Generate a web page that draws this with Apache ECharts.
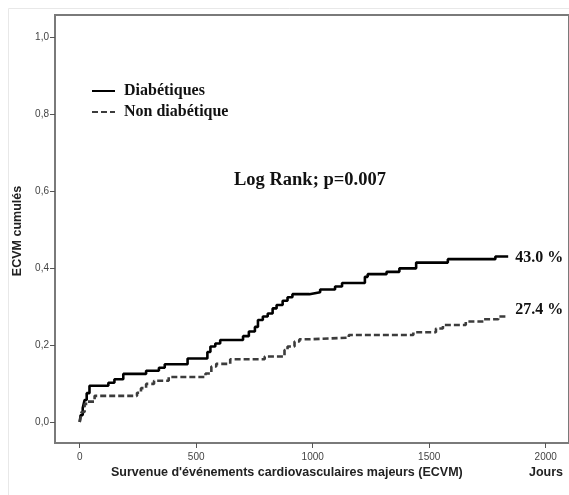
<!DOCTYPE html>
<html><head><meta charset="utf-8">
<script src="https://cdn.jsdelivr.net/npm/echarts@6/dist/echarts.min.js"></script>
<style>html,body{margin:0;padding:0;background:#fff}#c{width:569px;height:495px}</style>
</head><body><div id="c"></div>
<script>
const xTicks = [0, 500, 1000, 1500, 2000];
const yTicks = [0, 0.2, 0.4, 0.6, 0.8, 1.0];
const seriesNames = ['Diabétiques', 'Non diabétique'];
const diabDays = [0,4,13,21,30,42,123,149,187,285,340,365,463,548,561,582,603,701,726,752,765,786,807,828,845,871,892,913,986,1032,1096,1126,1224,1236,1317,1372,1444,1580,1784,1839];
const diabVals = [0,0.018,0.036,0.057,0.075,0.094,0.102,0.111,0.125,0.133,0.141,0.150,0.165,0.182,0.196,0.204,0.213,0.223,0.235,0.247,0.265,0.274,0.282,0.295,0.304,0.315,0.324,0.332,0.337,0.344,0.352,0.361,0.377,0.384,0.390,0.399,0.414,0.423,0.430,0.430];
const nonDays = [0,8,21,34,64,246,263,285,319,382,540,565,586,646,794,879,892,922,943,990,1155,1432,1529,1559,1657,1733,1797,1839];
const nonVals = [0,0.026,0.047,0.053,0.068,0.076,0.088,0.099,0.107,0.117,0.126,0.144,0.151,0.163,0.170,0.187,0.196,0.209,0.215,0.219,0.226,0.233,0.243,0.252,0.261,0.267,0.274,0.274];
const xTitle = "Survenue d'événements cardiovasculaires majeurs (ECVM)";
const xUnit = 'Jours';
const yTitle = 'ECVM cumulés';
const noteText = 'Log Rank; p=0.007';

const serif = '"Liberation Serif", "Times New Roman", serif';
const sans = '"Liberation Sans", Arial, sans-serif';
const frameColor = '#7a7a7a';

const chart = echarts.init(document.getElementById('c'));
const endFmt = p => (p.value[1] * 100).toFixed(1) + ' %';
chart.setOption({
  animation: false,
  backgroundColor: '#fff',
  grid: { left: 55, top: 15, right: -5, bottom: 52, show: true, borderColor: frameColor, borderWidth: 2, backgroundColor: 'transparent' },
  xAxis: {
    type: 'value', min: -106, max: 2100,
    axisLine: { show: true, onZero: false, lineStyle: { color: frameColor, width: 2 } },
    axisTick: { show: true, customValues: xTicks, length: 5, lineStyle: { color: '#555', width: 1 } },
    axisLabel: { customValues: xTicks, color: '#444', fontFamily: sans, fontSize: 10, margin: 9, formatter: v => String(v) },
    splitLine: { show: false }
  },
  yAxis: {
    type: 'value', min: -0.0545, max: 1.057,
    axisLine: { show: true, onZero: false, lineStyle: { color: frameColor, width: 2 } },
    axisTick: { show: true, customValues: yTicks, length: 5, lineStyle: { color: '#555', width: 1 } },
    axisLabel: { customValues: yTicks, color: '#444', fontFamily: sans, fontSize: 10, margin: 6,
      formatter: v => v.toFixed(1).replace('.', ',') },
    splitLine: { show: false }
  },
  legend: {
    orient: 'vertical', left: 86, top: 78, itemWidth: 23, itemHeight: 14, itemGap: 5,
    data: seriesNames,
    itemStyle: { opacity: 0, borderWidth: 0 },
    textStyle: { fontFamily: serif, fontWeight: 'bold', fontSize: 16, color: '#111', padding: [0, 0, 0, 4] }
  },
  series: [
    {
      name: seriesNames[0], type: 'line', step: 'end', symbol: 'none',
      data: diabDays.map((d, i) => [d, diabVals[i]]),
      lineStyle: { color: '#000', width: 2.6 }, itemStyle: { color: '#000' },
      endLabel: { show: true, formatter: endFmt, distance: 7, fontFamily: serif, fontWeight: 'bold', fontSize: 16, color: '#111', offset: [0, 1] }
    },
    {
      name: seriesNames[1], type: 'line', step: 'end', symbol: 'none',
      data: nonDays.map((d, i) => [d, nonVals[i]]),
      lineStyle: { color: '#3c3c3c', width: 2.6, type: [6, 3] }, itemStyle: { color: '#3c3c3c' },
      endLabel: { show: true, formatter: endFmt, distance: 7, fontFamily: serif, fontWeight: 'bold', fontSize: 16, color: '#111', offset: [0, -7] }
    }
  ],
  graphic: [
    { type: 'rect', silent: true, shape: { x: 8.5, y: 8.5, width: 700, height: 700 }, style: { fill: 'none', stroke: '#e8e8e8', lineWidth: 1 } },
    { type: 'text', left: 111, top: 466, style: { text: xTitle, fontFamily: sans, fontWeight: 'bold', fontSize: 12.5, fill: '#222' } },
    { type: 'text', left: 529, top: 466, style: { text: xUnit, fontFamily: sans, fontWeight: 'bold', fontSize: 12.5, fill: '#222' } },
    { type: 'text', x: 11, y: 231, rotation: Math.PI / 2, style: { text: yTitle, fontFamily: sans, fontWeight: 'bold', fontSize: 12.5, fill: '#222', align: 'center', verticalAlign: 'top' } },
    { type: 'text', left: 234, top: 171, style: { text: noteText, fontFamily: serif, fontWeight: 'bold', fontSize: 18.5, fill: '#111' } }
  ]
});
</script></body></html>
